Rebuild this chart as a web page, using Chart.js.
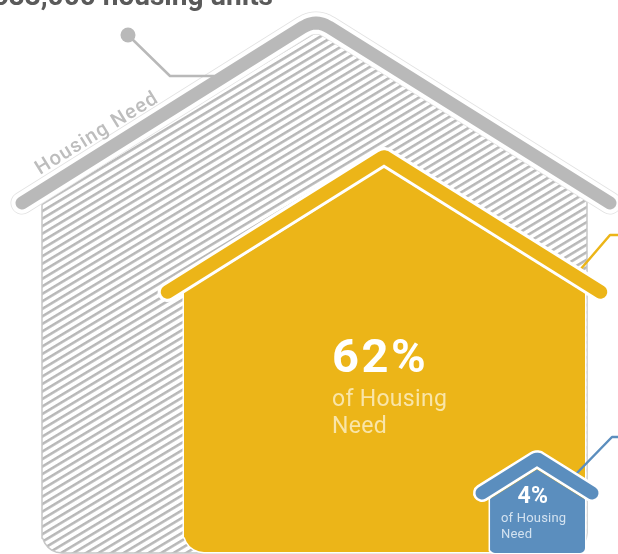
<!DOCTYPE html>
<html>
<head>
<meta charset="utf-8">
<style>
html,body{margin:0;padding:0;background:#fff;}
canvas{display:block;}
</style>
<script src="https://cdn.jsdelivr.net/npm/chart.js@4/dist/chart.umd.min.js"></script>
</head>
<body>
<canvas id="chart" width="618" height="554"></canvas>
<script>
// Shares of the housing need, in percent
const houseNames = ['Housing Need', 'Affordable share', 'Lowest-income share'];
const needShares = [100, 62, 4];
const shareLabels = ['62%', '4%'];
const shareCaption = ['of Housing', 'Need'];
const headline = '683,000 housing units';

// Drawing-space geometry of each house
const FRAME_SCALE = 1.069;          // the full-need frame sits slightly outside its share size
const FULL_HALF_ROOF = 275;
const ROOF_PITCH = 0.626;
const houseLayout = [
  {cx: 316, eaves: 203, left: 42,  right: 587, base: 553, radius: 20, drop: 13,   round: 13, frame: FRAME_SCALE},
  {cx: 384, eaves: 292, left: 184, right: 585, base: 552, radius: 20, drop: 11.5, round: 2,  frame: 1},
  {cx: 537, eaves: 493, left: 490, right: 585, base: 553, radius: 5,  drop: 11,   round: 2,  frame: 1}
];

const halfRoof = (i) => FULL_HALF_ROOF * Math.sqrt(needShares[i] / 100) * houseLayout[i].frame;

// Roof centre line with a softened ridge, sampled as a quadratic curve
function roofLine(i) {
  const h = houseLayout[i], w = halfRoof(i);
  const apexY = h.eaves - w * ROOF_PITCH;
  const pts = [{x: h.cx - w, y: h.eaves}];
  for (let s = -1; s <= 1.001; s += 0.25) {
    pts.push({
      x: h.cx + s * h.round,
      y: apexY + h.round * ROOF_PITCH * (1 + s * s) / 2
    });
  }
  pts.push({x: h.cx + w, y: h.eaves});
  return pts;
}

function bottomCorners(h) {
  const pts = [];
  const cr = {x: h.right - h.radius, y: h.base - h.radius};
  const cl = {x: h.left + h.radius, y: h.base - h.radius};
  for (let a = 0; a <= 90; a += 15) {
    const t = a * Math.PI / 180;
    pts.push({x: cr.x + h.radius * Math.cos(t), y: cr.y + h.radius * Math.sin(t)});
  }
  for (let a = 90; a <= 180; a += 15) {
    const t = a * Math.PI / 180;
    pts.push({x: cl.x + h.radius * Math.cos(t), y: cl.y + h.radius * Math.sin(t)});
  }
  return pts;
}

function ridgeY(i) {
  return houseLayout[i].eaves - halfRoof(i) * ROOF_PITCH + houseLayout[i].drop;
}

function bodyShape(i) {
  const h = houseLayout[i], top = ridgeY(i);
  const yAt = (x) => top + Math.abs(x - h.cx) * ROOF_PITCH;
  const first = {x: h.left, y: yAt(h.left)};
  return [first, {x: h.cx, y: top}, {x: h.right, y: yAt(h.right)},
    ...bottomCorners(h), first];
}

function wallLine(i) {
  const h = houseLayout[i], top = ridgeY(i);
  const yAt = (x) => top + Math.abs(x - h.cx) * ROOF_PITCH;
  return [{x: h.right, y: yAt(h.right)}, ...bottomCorners(h), {x: h.left, y: yAt(h.left)}];
}

function hatchPattern(ctx) {
  const tile = document.createElement('canvas');
  tile.width = 8; tile.height = 7;
  const t = tile.getContext('2d');
  t.fillStyle = '#ffffff'; t.fillRect(0, 0, 8, 7);
  t.fillStyle = '#b8b8b8'; t.fillRect(0, 2, 8, 2.8);
  const p = ctx.createPattern(tile, 'repeat');
  p.setTransform(new DOMMatrix().rotate(-31).scale(1, 0.92));
  return p;
}

const stroke = (data, color, width) => ({
  data, showLine: true, borderColor: color, borderWidth: width, pointRadius: 0,
  fill: false, tension: 0, borderCapStyle: 'round', borderJoinStyle: 'round'
});
const solid = (data, color) => ({
  data, showLine: true, borderColor: 'transparent', borderWidth: 1, pointRadius: 0,
  backgroundColor: color, fill: 'shape', tension: 0
});

const GREY = '#b9b9b9', GOLD = '#ecb518', BLUE = '#5b8ebe';
const canvas = document.getElementById('chart');
const hatch = hatchPattern(canvas.getContext('2d'));

// Listed in painting order; reversed below because Chart.js paints the first dataset last
const paint = [
  solid(bodyShape(0), hatch),
  stroke(wallLine(0), '#c6c6c6', 1.5),
  stroke(roofLine(0), '#e2e2e2', 23),
  stroke(roofLine(0), '#ffffff', 21.5),
  stroke([{x: 128, y: 35}, {x: 170, y: 76}, {x: 214, y: 76}], GREY, 2.5),
  {data: [{x: 128, y: 35}], showLine: false, pointRadius: 7.5, pointBackgroundColor: GREY, pointBorderWidth: 0},
  stroke(roofLine(0), GREY, 13),
  stroke([{x: 580, y: 270}, {x: 610, y: 235}, {x: 618, y: 235}], GOLD, 2.5),
  stroke(roofLine(1), '#ffffff', 20),
  stroke(wallLine(1), '#ffffff', 3),
  solid(bodyShape(1), GOLD),
  stroke(roofLine(1), GOLD, 13.5),
  stroke([{x: 577, y: 473}, {x: 612, y: 437}, {x: 618, y: 437}], BLUE, 2.5),
  stroke(roofLine(2), '#ffffff', 18),
  stroke(wallLine(2), '#ffffff', 3),
  solid(bodyShape(2), BLUE),
  stroke(roofLine(2), BLUE, 13)
];

// Text set in the chart's own coordinates
const textMarks = [
  {text: headline, x: 273, y: 5, font: '700 28px Roboto', color: '#5a5a5a', align: 'right'},
  {text: houseNames[0], x: 100, y: 138, font: '500 20px Roboto', color: '#bdbdbd', align: 'center', angle: -31.6, spacing: '1.2px'},
  {text: shareLabels[0], x: 332, y: 372, font: '700 47px Roboto', color: '#ffffff', align: 'left', spacing: '2.5px'},
  {text: shareCaption[0], x: 332, y: 406, font: '400 23px Roboto', color: '#f9e5a8', align: 'left', spacing: '0.3px'},
  {text: shareCaption[1], x: 332, y: 433, font: '400 23px Roboto', color: '#f9e5a8', align: 'left', spacing: '0.3px'},
  {text: shareLabels[1], x: 533, y: 503, font: '700 23px Roboto', color: '#ffffff', align: 'center', spacing: '0.5px'},
  {text: shareCaption[0], x: 501, y: 522, font: '400 13px Roboto', color: '#d3e2f0', align: 'left', spacing: '0.2px'},
  {text: shareCaption[1], x: 501, y: 538, font: '400 13px Roboto', color: '#d3e2f0', align: 'left', spacing: '0.2px'}
];

const textPlugin = {
  id: 'houseText',
  afterDatasetsDraw(chart) {
    const {ctx, scales: {x, y}} = chart;
    textMarks.forEach((m) => {
      ctx.save();
      ctx.translate(x.getPixelForValue(m.x), y.getPixelForValue(m.y));
      if (m.angle) ctx.rotate(m.angle * Math.PI / 180);
      ctx.font = m.font;
      ctx.fillStyle = m.color;
      ctx.textAlign = m.align;
      ctx.textBaseline = 'alphabetic';
      if (m.spacing) ctx.letterSpacing = m.spacing;
      ctx.fillText(m.text, 0, 0);
      ctx.restore();
    });
  }
};

new Chart(canvas, {
  type: 'scatter',
  data: {datasets: paint.slice().reverse()},
  options: {
    responsive: false,
    animation: false,
    layout: {padding: 0, autoPadding: false},
    plugins: {legend: {display: false}, tooltip: {enabled: false}},
    events: [],
    scales: {
      x: {type: 'linear', min: 0, max: 618, display: false},
      y: {type: 'linear', min: 0, max: 554, reverse: true, display: false}
    }
  },
  plugins: [textPlugin]
});
</script>
</body>
</html>
